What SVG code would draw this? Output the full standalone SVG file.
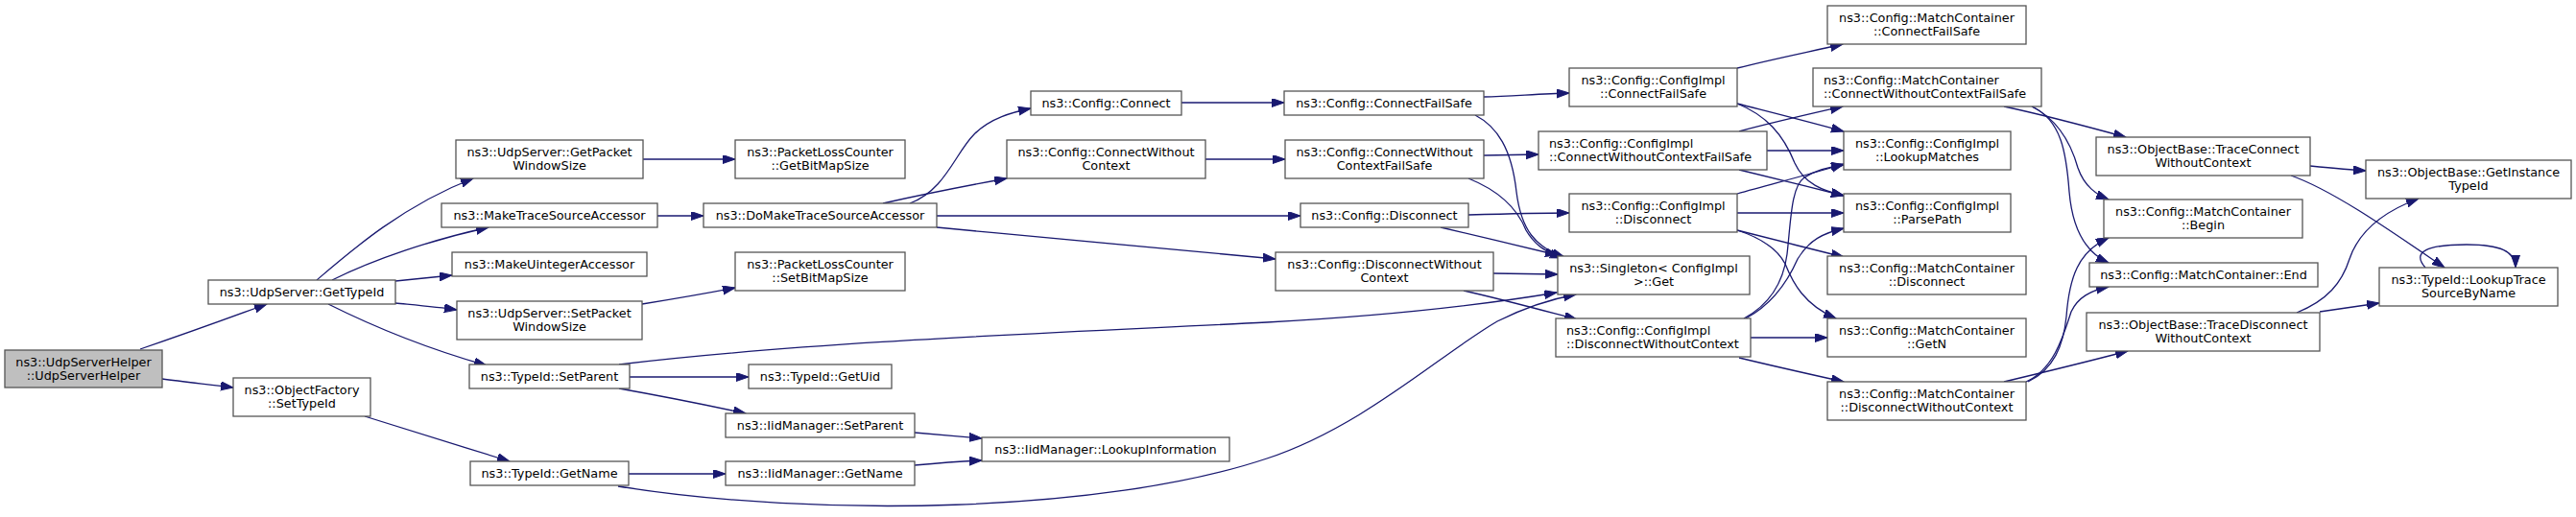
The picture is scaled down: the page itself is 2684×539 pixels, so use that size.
<svg xmlns="http://www.w3.org/2000/svg" width="2684" height="539" viewBox="0 0 2684 539">
<style>
.n rect{fill:#ffffff;stroke:#555555;stroke-width:1.3}
.root rect{fill:#bfbfbf}
text{font-family:"DejaVu Sans","Liberation Sans",sans-serif;font-size:12.8px;fill:#000;text-anchor:middle}
text.l{text-anchor:start}
.e path{fill:none;stroke:#191970;stroke-width:1.3;marker-end:url(#arr)}
</style>
<defs>
<marker id="arr" markerUnits="userSpaceOnUse" markerWidth="14" markerHeight="10" refX="13" refY="4.5" orient="auto"><path d="M0,0 L13,4.5 L0,9 z" fill="#191970" stroke="#191970" stroke-width="1"/></marker>
</defs>
<rect width="2684" height="539" fill="#ffffff"/>
<g id="edges" class="e">
<path d="M146,364 C190,349 240,331 278,317"/>
<path d="M169,395 C190,398 220,401 243,404"/>
<path d="M330,292 C365,262 420,214 493,186"/>
<path d="M346,292 C390,270 450,250 509,237"/>
<path d="M412,293 C432,291 452,289 471,287"/>
<path d="M412,316 C432,318 455,320 476,323"/>
<path d="M342,317 C380,336 440,362 507,381"/>
<path d="M380,434 C425,448 480,465 531,481"/>
<path d="M670,166 L766,166"/>
<path d="M685,225 L733,225"/>
<path d="M669,317 C700,312 735,306 766,300"/>
<path d="M645,380 C850,355 1150,345 1320,336 C1450,329 1550,317 1622,305"/>
<path d="M656,393 L780,393"/>
<path d="M645,405 C690,413 735,422 777,431"/>
<path d="M655,494 L756,494"/>
<path d="M644,507 C850,540 1150,535 1320,478 C1420,445 1500,370 1560,335 C1590,320 1615,312 1642,307"/>
<path d="M953,451 C975,453 1000,455 1023,457"/>
<path d="M953,485 C975,483 1000,481 1023,480"/>
<path d="M948,212 C985,198 995,160 1015,140 C1032,123 1055,117 1074,113"/>
<path d="M920,212 C960,203 1005,194 1049,186"/>
<path d="M976,225 L1355,225"/>
<path d="M976,237 C1100,249 1230,260 1329,270"/>
<path d="M1231,107 L1338,107"/>
<path d="M1256,166 L1339,166"/>
<path d="M1546,101 C1575,100 1605,98 1635,97"/>
<path d="M1537,120 C1560,132 1575,155 1580,200 C1585,240 1600,258 1630,268"/>
<path d="M1546,162 L1603,161"/>
<path d="M1530,186 C1560,198 1580,215 1590,240 C1600,257 1612,263 1628,269"/>
<path d="M1530,224 C1565,223 1600,222 1635,222"/>
<path d="M1501,237 C1540,246 1585,257 1623,266"/>
<path d="M1556,285 L1623,286"/>
<path d="M1525,303 C1565,312 1605,323 1643,333"/>
<path d="M1810,71 C1845,62 1885,54 1920,46"/>
<path d="M1810,108 C1845,117 1885,127 1921,137"/>
<path d="M1810,108 C1840,120 1858,140 1870,170 C1880,192 1900,199 1921,204"/>
<path d="M1812,137 C1845,128 1885,119 1920,111"/>
<path d="M1841,157 L1921,157"/>
<path d="M1812,177 C1845,185 1885,195 1921,204"/>
<path d="M1810,202 C1845,192 1885,182 1921,171"/>
<path d="M1810,222 L1921,222"/>
<path d="M1810,240 C1845,249 1885,259 1921,268"/>
<path d="M1810,240 C1835,248 1852,260 1860,275 C1868,295 1880,318 1913,332"/>
<path d="M1817,332 C1843,318 1858,295 1862,265 C1866,230 1866,195 1880,185 C1892,177 1905,174 1921,172"/>
<path d="M1819,332 C1845,318 1862,295 1873,270 C1885,250 1900,243 1921,238"/>
<path d="M1824,352 L1904,352"/>
<path d="M1812,373 C1845,381 1885,390 1921,398"/>
<path d="M2088,111 C2130,120 2175,132 2215,143"/>
<path d="M2117,111 C2145,125 2158,150 2165,175 C2172,195 2185,203 2197,208"/>
<path d="M2117,111 C2148,125 2153,160 2156,200 C2159,235 2170,262 2197,274"/>
<path d="M2113,398 C2140,385 2150,360 2153,330 C2156,290 2165,262 2197,248"/>
<path d="M2111,398 C2140,385 2150,350 2158,325 C2165,310 2178,303 2197,299"/>
<path d="M2088,398 C2130,388 2175,377 2217,366"/>
<path d="M2407,173 C2427,175 2447,177 2465,178"/>
<path d="M2387,183 C2430,198 2490,240 2547,279"/>
<path d="M2393,326 C2425,313 2440,295 2448,270 C2458,240 2485,220 2520,207"/>
<path d="M2417,325 C2438,322 2458,319 2479,316"/>
<path d="M2527,279 C2512,262 2530,255 2570,255 C2605,255 2621,262 2621,279"/>
</g>
<g id="n1" class="n root"><rect x="5" y="365" width="164" height="39"/><text x="87" y="381.5">ns3::UdpServerHelper</text><text x="87" y="395.5">::UdpServerHelper</text></g>
<g id="n2" class="n"><rect x="217" y="292" width="195" height="25"/><text x="314.5" y="308.5">ns3::UdpServer::GetTypeId</text></g>
<g id="n3" class="n"><rect x="243" y="394" width="143" height="40"/><text x="314.5" y="410.5">ns3::ObjectFactory</text><text x="314.5" y="424.5">::SetTypeId</text></g>
<g id="n4" class="n"><rect x="475" y="146" width="195" height="40"/><text x="572.5" y="162.5">ns3::UdpServer::GetPacket</text><text x="572.5" y="176.5">WindowSize</text></g>
<g id="n5" class="n"><rect x="460" y="212" width="225" height="25"/><text x="572.5" y="228.5">ns3::MakeTraceSourceAccessor</text></g>
<g id="n6" class="n"><rect x="471" y="263" width="203" height="25"/><text x="572.5" y="279.5">ns3::MakeUintegerAccessor</text></g>
<g id="n7" class="n"><rect x="476" y="314" width="193" height="40"/><text x="572.5" y="330.5">ns3::UdpServer::SetPacket</text><text x="572.5" y="344.5">WindowSize</text></g>
<g id="n8" class="n"><rect x="489" y="380" width="167" height="25"/><text x="572.5" y="396.5">ns3::TypeId::SetParent</text></g>
<g id="n9" class="n"><rect x="490" y="481" width="165" height="25"/><text x="572.5" y="497.5">ns3::TypeId::GetName</text></g>
<g id="n10" class="n"><rect x="766" y="146" width="177" height="40"/><text x="854.5" y="162.5">ns3::PacketLossCounter</text><text x="854.5" y="176.5">::GetBitMapSize</text></g>
<g id="n11" class="n"><rect x="733" y="212" width="243" height="25"/><text x="854.5" y="228.5">ns3::DoMakeTraceSourceAccessor</text></g>
<g id="n12" class="n"><rect x="766" y="263" width="177" height="40"/><text x="854.5" y="279.5">ns3::PacketLossCounter</text><text x="854.5" y="293.5">::SetBitMapSize</text></g>
<g id="n13" class="n"><rect x="780" y="380" width="149" height="25"/><text x="854.5" y="396.5">ns3::TypeId::GetUid</text></g>
<g id="n14" class="n"><rect x="756" y="431" width="197" height="25"/><text x="854.5" y="447.5">ns3::IidManager::SetParent</text></g>
<g id="n15" class="n"><rect x="756" y="481" width="197" height="25"/><text x="854.5" y="497.5">ns3::IidManager::GetName</text></g>
<g id="n16" class="n"><rect x="1023" y="456" width="258" height="25"/><text x="1152" y="472.5">ns3::IidManager::LookupInformation</text></g>
<g id="n17" class="n"><rect x="1074" y="95" width="157" height="25"/><text x="1152.5" y="111.5">ns3::Config::Connect</text></g>
<g id="n18" class="n"><rect x="1049" y="146" width="207" height="40"/><text x="1152.5" y="162.5">ns3::Config::ConnectWithout</text><text x="1152.5" y="176.5">Context</text></g>
<g id="n19" class="n"><rect x="1338" y="95" width="208" height="25"/><text x="1442" y="111.5">ns3::Config::ConnectFailSafe</text></g>
<g id="n20" class="n"><rect x="1339" y="146" width="207" height="40"/><text x="1442.5" y="162.5">ns3::Config::ConnectWithout</text><text x="1442.5" y="176.5">ContextFailSafe</text></g>
<g id="n21" class="n"><rect x="1355" y="212" width="175" height="25"/><text x="1442.5" y="228.5">ns3::Config::Disconnect</text></g>
<g id="n22" class="n"><rect x="1329" y="263" width="227" height="40"/><text x="1442.5" y="279.5">ns3::Config::DisconnectWithout</text><text x="1442.5" y="293.5">Context</text></g>
<g id="n23" class="n"><rect x="1635" y="71" width="175" height="40"/><text x="1722.5" y="87.5">ns3::Config::ConfigImpl</text><text x="1722.5" y="101.5">::ConnectFailSafe</text></g>
<g id="n24" class="n"><rect x="1603" y="137" width="238" height="40"/><text class="l" x="1614" y="153.5">ns3::Config::ConfigImpl</text><text class="l" x="1614" y="167.5">::ConnectWithoutContextFailSafe</text></g>
<g id="n25" class="n"><rect x="1635" y="202" width="175" height="40"/><text x="1722.5" y="218.5">ns3::Config::ConfigImpl</text><text x="1722.5" y="232.5">::Disconnect</text></g>
<g id="n26" class="n"><rect x="1623" y="267" width="200" height="40"/><text x="1723" y="283.5">ns3::Singleton&lt; ConfigImpl</text><text x="1723" y="297.5">&gt;::Get</text></g>
<g id="n27" class="n"><rect x="1621" y="332" width="203" height="40"/><text class="l" x="1632" y="348.5">ns3::Config::ConfigImpl</text><text class="l" x="1632" y="362.5">::DisconnectWithoutContext</text></g>
<g id="n28" class="n"><rect x="1904" y="6" width="207" height="40"/><text x="2007.5" y="22.5">ns3::Config::MatchContainer</text><text x="2007.5" y="36.5">::ConnectFailSafe</text></g>
<g id="n29" class="n"><rect x="1889" y="71" width="238" height="40"/><text class="l" x="1900" y="87.5">ns3::Config::MatchContainer</text><text class="l" x="1900" y="101.5">::ConnectWithoutContextFailSafe</text></g>
<g id="n30" class="n"><rect x="1921" y="137" width="174" height="40"/><text x="2008" y="153.5">ns3::Config::ConfigImpl</text><text x="2008" y="167.5">::LookupMatches</text></g>
<g id="n31" class="n"><rect x="1921" y="202" width="174" height="40"/><text x="2008" y="218.5">ns3::Config::ConfigImpl</text><text x="2008" y="232.5">::ParsePath</text></g>
<g id="n32" class="n"><rect x="1904" y="267" width="207" height="40"/><text x="2007.5" y="283.5">ns3::Config::MatchContainer</text><text x="2007.5" y="297.5">::Disconnect</text></g>
<g id="n33" class="n"><rect x="1904" y="332" width="207" height="40"/><text x="2007.5" y="348.5">ns3::Config::MatchContainer</text><text x="2007.5" y="362.5">::GetN</text></g>
<g id="n34" class="n"><rect x="1904" y="398" width="207" height="40"/><text x="2007.5" y="414.5">ns3::Config::MatchContainer</text><text x="2007.5" y="428.5">::DisconnectWithoutContext</text></g>
<g id="n35" class="n"><rect x="2184" y="143" width="223" height="40"/><text x="2295.5" y="159.5">ns3::ObjectBase::TraceConnect</text><text x="2295.5" y="173.5">WithoutContext</text></g>
<g id="n36" class="n"><rect x="2192" y="208" width="207" height="40"/><text x="2295.5" y="224.5">ns3::Config::MatchContainer</text><text x="2295.5" y="238.5">::Begin</text></g>
<g id="n37" class="n"><rect x="2177" y="274" width="238" height="25"/><text x="2296" y="290.5">ns3::Config::MatchContainer::End</text></g>
<g id="n38" class="n"><rect x="2174" y="326" width="243" height="40"/><text x="2295.5" y="342.5">ns3::ObjectBase::TraceDisconnect</text><text x="2295.5" y="356.5">WithoutContext</text></g>
<g id="n39" class="n"><rect x="2465" y="167" width="214" height="40"/><text x="2572" y="183.5">ns3::ObjectBase::GetInstance</text><text x="2572" y="197.5">TypeId</text></g>
<g id="n40" class="n"><rect x="2479" y="279" width="186" height="40"/><text x="2572" y="295.5">ns3::TypeId::LookupTrace</text><text x="2572" y="309.5">SourceByName</text></g>
</svg>
